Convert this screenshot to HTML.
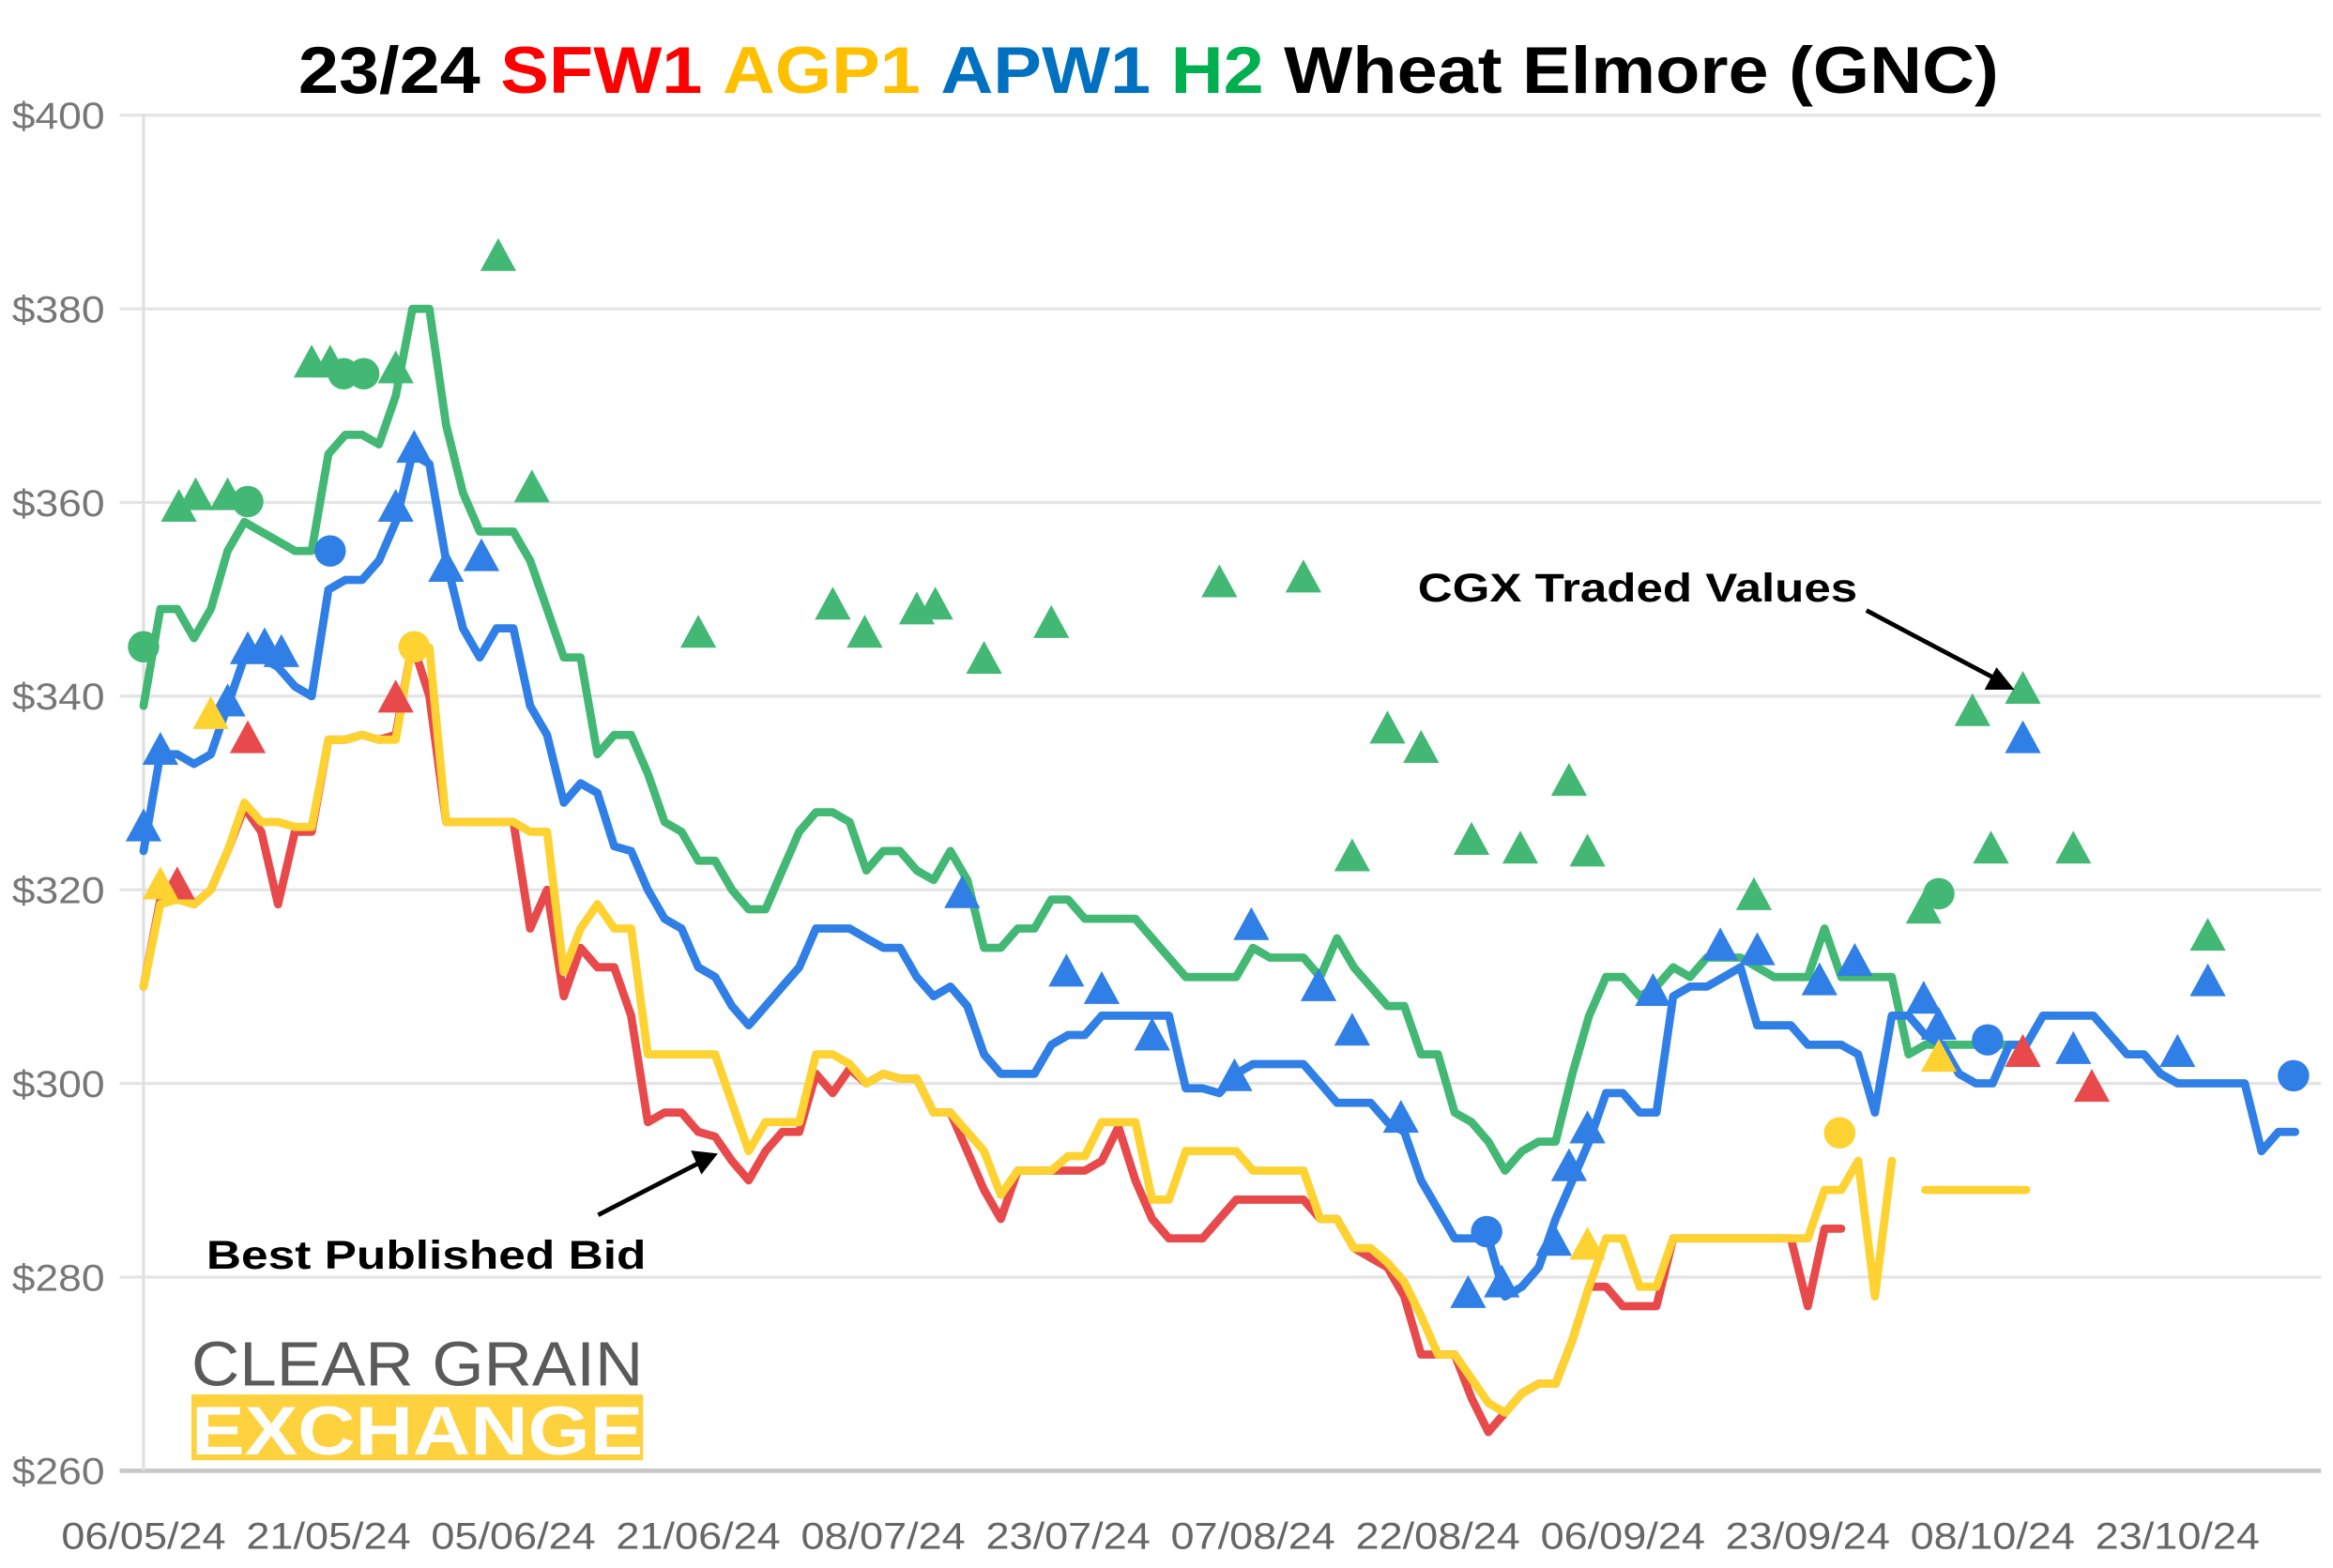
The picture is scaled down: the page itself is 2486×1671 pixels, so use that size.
<!DOCTYPE html>
<html><head><meta charset="utf-8"><style>
html,body{margin:0;padding:0;background:#fff;}
svg{display:block;}
</style></head><body>
<svg id="chart" xmlns="http://www.w3.org/2000/svg" width="2486" height="1671" viewBox="0 0 1560 1048" preserveAspectRatio="none" font-family="Liberation Sans, sans-serif">
<rect x="0" y="0" width="1560" height="1048" fill="#fff"/>
<g id="grid"></g>
<g id="yticks"></g>
<g id="xticks"></g>
<g id="lines"></g>
<g id="markers"></g>
<text x="768" y="62" text-anchor="middle" font-weight="bold" font-size="44" textLength="1137" lengthAdjust="spacingAndGlyphs"><tspan fill="#000">23/24 </tspan><tspan fill="#ff0000">SFW1 </tspan><tspan fill="#ffc000">AGP1 </tspan><tspan fill="#0070c0">APW1 </tspan><tspan fill="#00b050">H2 </tspan><tspan fill="#000">Wheat Elmore (GNC)</tspan></text>
<text x="948" y="402" font-weight="bold" font-size="27" textLength="294" lengthAdjust="spacingAndGlyphs" fill="#000">CGX Traded Values</text>
<g><line x1="1248" y1="408" x2="1335" y2="454" stroke="#000" stroke-width="3"/><polygon points="1347,461 1327,461 1335,446" fill="#000"/></g>
<text x="138" y="848" font-weight="bold" font-size="27" textLength="294" lengthAdjust="spacingAndGlyphs" fill="#000">Best Published Bid</text>
<g><line x1="400" y1="812" x2="468" y2="777" stroke="#000" stroke-width="3"/><polygon points="480,771 462,769 469,785" fill="#000"/></g>
<g>
<text x="128" y="926" font-size="42" fill="#5a5a5a" textLength="302" lengthAdjust="spacingAndGlyphs">CLEAR GRAIN</text>
<rect x="128" y="932" width="302" height="44" fill="#fdd23e"/>
<text x="128" y="972" font-size="46" font-weight="bold" fill="#fff" textLength="302" lengthAdjust="spacingAndGlyphs">EXCHANGE</text>
</g>
</svg>
<script>
const yTicks=[260,280,300,320,340,360,380,400];
const xLabels=["06/05/24","21/05/24","05/06/24","21/06/24","08/07/24","23/07/24","07/08/24","22/08/24","06/09/24","23/09/24","08/10/24","23/10/24"];
const xLabelIdx=[0,11,22,33,44,55,66,77,88,99,110,121];
const h2=[339,349,349,346,349,355,358,357,356,355,355,365,367,367,366,371,380,380,368,361,357,357,357,354,349,344,344,334,336,336,332,327,326,323,323,320,318,318,322,326,328,328,327,322,324,324,322,321,324,321,314,314,316,316,319,319,317,317,317,317,315,313,311,311,311,311,314,313,313,313,311,315,312,310,308,308,303,303,297,296,294,291,293,294,294,301,307,311,311,309,310,312,311,313,313,313,312,311,311,311,316,311,311,311,311,303,304,304,304,304,304,304,304];
const apw1=[324,334,334,333,334,339,344,344,343,341,340,351,352,352,354,358,365,364,354,347,344,347,347,339,336,329,331,330,324.5,324,320,317,316,312,311,308,306,308,310,312,316,316,316,315,314,314,311,309,310,308,303,301,301,301,304,305,305,307,307,307,307,307,299.5,299.5,299,301,302,302,302,302,300,298,298,298,296,295,290,287,284,284,284,278,279,281,286,290,294,299,299,297,297,309,310,310,311,312,306,306,306,304,304,304,303,297,307,307,305,304,301,300,300,304,304,307,307,307,307,305,303,303,301,300,300,300,300,300,293,295,295];
const agp1=[310,318.5,319,318.5,320,324,329,327,327,326.5,326.5,335.5,335.5,336,335.5,335.5,345.5,345,327,327,327,327,327,326,326,311.5,316,318.5,316,316,303,303,303,303,303,298,293,296,296,296,303,303,302,300,301,300.5,300.5,297,297,295,293,288.5,291,291,291,292.5,292.5,296,296,296,288,288,293,293,293,293,291,291,291,291,286,286,283,283,281.5,279.5,276,272,272,269.5,267,266,268,269,269,273.5,279,284,284,279,279,284,284,284,284,284,284,284,284,284,289,289,292,278,292,null,289,289,289,289,289,289,289];
const sfw1=[310,319,319.5,318.5,320,324,328.5,326,318.5,326,326,335.5,335.5,336,335.5,336,345.5,340,327,327,327,327,327,316,320,309,314,312,312,307,296,297,297,295,294.5,292,290,293,295,295,301,299,301.5,300,301,300.5,300.5,297,297,293,289,286,291,291,291,291,291,292,295.5,290,286,284,284,284,286,288,288,288,288,288,286,286,283,282,281,278,272,272,272,267.5,264,266,268,269,269,273.5,279,279,277,277,277,284,284,284,284,284,284,284,284,277,285,285];
const h2TriIdx=[2.1,3.1,5,10,11.1,15,21.1,23.1,33,41,42.9,46,47.1,50,54,64,69,71.9,74,76,79,81.9,84.8,85.9,95.8,105.9,108.8,109.9,111.8,114.8,122.8];
const h2TriVal=[359.4,360.6,360.6,374.3,374.3,373.7,385.3,361.4,346.4,349.3,346.4,348.8,349.3,343.7,347.4,351.6,352.1,323.3,336.5,334.5,325,324.1,331.1,323.8,319.3,317.9,338.3,324.1,340.6,324.1,315.1];
const h2DotIdx=[0,6.2,11.9,13.1,106.8];
const h2DotVal=[345.1,360.1,373.3,373.3,319.6];
const apwTriIdx=[0,1,5,6.2,7.2,8.2,15,16.1,18,20.1,48.7,54.9,57,60,65.9,64.9,69.9,71.9,74.8,78.8,80.8,83.9,84.8,85.9,89.8,93.8,96,99.7,101.8,105.9,106.8,111.8,114.8,121,122.8];
const apwTriVal=[326.4,334.3,339.3,344.7,345.1,344.4,359.4,365.5,353.2,354.3,319.5,311.4,309.6,304.8,316.2,300.6,309.9,305.3,296.3,278.2,279.3,283.6,291.3,295.2,309.4,314.1,313.6,310.5,312.5,308.6,305.9,335.5,303.4,303.1,310.4];
const apwDotIdx=[11.1,79.9,109.7,127.9];
const apwDotVal=[355,284.7,304.5,300.8];
const sfwTriIdx=[2,6.2,15,111.8,115.9];
const sfwTriVal=[320.4,335.5,339.7,303.1,299.5];
const agpTriIdx=[1,4,85.9,106.8];
const agpTriVal=[320.4,338,283.2,302.6];
const agpDotIdx=[16.1,100.9];
const agpDotVal=[345.1,294.9];

const NS='http://www.w3.org/2000/svg';
const X0=96,DX=11.24,Y0=77,Y1=983,VMIN=260,VMAX=400;
function xs(i){return X0+i*DX;}
function ys(v){return Y1-(v-VMIN)/(VMAX-VMIN)*(Y1-Y0);}
function mk(tag,parent){const e=document.createElementNS(NS,tag);parent.appendChild(e);return e;}
const grid=document.getElementById('grid'),yt=document.getElementById('yticks'),xt=document.getElementById('xticks');
yTicks.forEach(v=>{
  const l=mk('line',grid);
  
  
  l.setAttribute('x1',80);l.setAttribute('x2',1552);l.setAttribute('y1',ys(v));l.setAttribute('y2',ys(v));
  l.setAttribute('stroke',v===260?'#c8c8c8':'#e4e4e4');l.setAttribute('stroke-width',v===260?3:2);
  const t=mk('text',yt);
  
  
  t.setAttribute('x',70);t.setAttribute('y',ys(v)+9);t.setAttribute('text-anchor','end');
  t.setAttribute('font-size','25');t.setAttribute('fill','#777');t.setAttribute('textLength','62');t.setAttribute('lengthAdjust','spacingAndGlyphs');t.textContent='$'+v;
});
const ax=mk('line',grid);


ax.setAttribute('x1',96);ax.setAttribute('x2',96);ax.setAttribute('y1',Y0);ax.setAttribute('y2',Y1);ax.setAttribute('stroke','#e0e0e0');ax.setAttribute('stroke-width',2);
xLabels.forEach((s,k)=>{
  const t=mk('text',xt);
  
  
  t.setAttribute('x',xs(xLabelIdx[k]));t.setAttribute('y',1035);t.setAttribute('text-anchor','middle');
  t.setAttribute('font-size','25');t.setAttribute('fill','#666');t.setAttribute('textLength','110');t.setAttribute('lengthAdjust','spacingAndGlyphs');t.textContent=s;
});
const lines=document.getElementById('lines');
function drawLine(arr,color,name){
  let d='',pen=false;
  arr.forEach((v,i)=>{if(v===null){pen=false;return;}d+=(pen?'L':'M')+xs(i).toFixed(1)+','+ys(v).toFixed(1);pen=true;});
  const p=mk('path',lines);
  
  
  p.setAttribute('d',d);p.setAttribute('fill','none');p.setAttribute('stroke',color);
  p.setAttribute('stroke-width','5.5');p.setAttribute('stroke-linejoin','round');p.setAttribute('stroke-linecap','round');
}
drawLine(h2,'#43b874','h2-line');
drawLine(apw1,'#2f7fe6','apw1-line');
drawLine(sfw1,'#e8494b','sfw1-line');
drawLine(agp1,'#fdd231','agp1-line');
const mg=document.getElementById('markers');
function tris(idx,vals,color,name){
  idx.forEach((i,k)=>{
    const x=xs(i),y=ys(vals[k]);
    const p=mk('polygon',mg);
    
    
    p.setAttribute('points',(x-12)+','+(y+9)+' '+(x+12)+','+(y+9)+' '+x+','+(y-13));
    p.setAttribute('fill',color);
  });
}
function dots(idx,vals,color,name){
  idx.forEach((i,k)=>{
    const c=mk('circle',mg);
    
    
    c.setAttribute('cx',xs(i));c.setAttribute('cy',ys(vals[k]));c.setAttribute('r',10.5);c.setAttribute('fill',color);
  });
}
tris(h2TriIdx,h2TriVal,'#43b874','h2-trade-triangle');
dots(h2DotIdx,h2DotVal,'#43b874','h2-trade-dot');
tris(apwTriIdx,apwTriVal,'#2f7fe6','apw1-trade-triangle');
dots(apwDotIdx,apwDotVal,'#2f7fe6','apw1-trade-dot');
tris(sfwTriIdx,sfwTriVal,'#e8494b','sfw1-trade-triangle');
tris(agpTriIdx,agpTriVal,'#fdd231','agp1-trade-triangle');
dots(agpDotIdx,agpDotVal,'#fdd231','agp1-trade-dot');
</script>
</body></html>
